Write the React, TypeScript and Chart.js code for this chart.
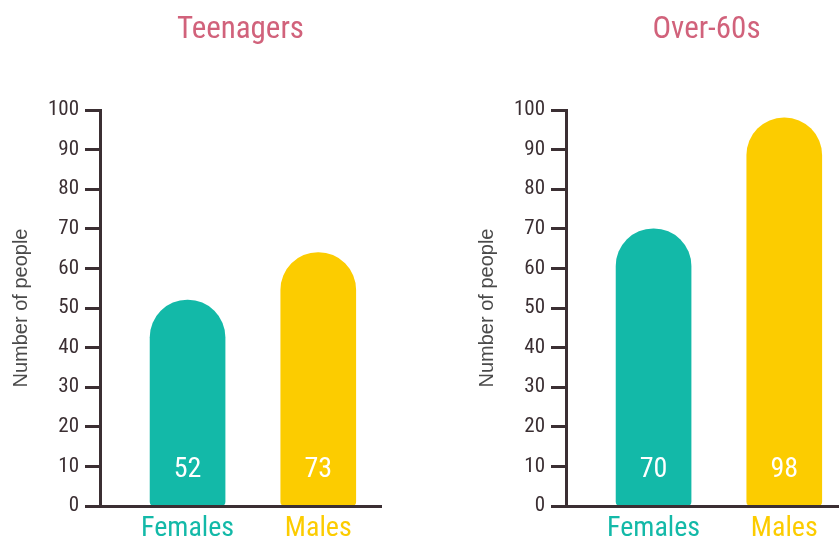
import React, { useEffect, useRef } from 'react';
import { Chart, registerables } from 'chart.js';

Chart.register(...registerables);

// ---- data ----
const categories = ['Females', 'Males'];
const teenBarValues = [52, 64];
const teenValueLabels = ['52', '73'];
const over60BarValues = [70, 98];
const over60ValueLabels = ['70', '98'];
const panelTitles = ['Teenagers', 'Over-60s'];
const yAxisTitle = 'Number of people';
const yMin = 0;
const yMax = 100;
const yStep = 10;

// ---- styles ----
const barColors = ['#13b9a8', '#fccc00'];
const titleColor = '#d1627b';
const axisColor = '#3b2f33';
const yTitleColor = '#4a4a4a';
const narrowFont = "'Liberation Sans Narrow', 'Roboto Condensed', 'DejaVu Sans Condensed', 'Liberation Sans', sans-serif";
const plainFont = "'Liberation Sans', Arial, sans-serif";

const valueLabelPlugin = {
  id: 'valueLabels',
  afterDatasetsDraw(chart: any, _args: any, opts: any) {
    const { ctx } = chart;
    const meta = chart.getDatasetMeta(0);
    const y = chart.scales.y.getPixelForValue(opts.at) + opts.size * 0.38;
    ctx.save();
    ctx.font = `${opts.size}px ${narrowFont}`;
    ctx.fillStyle = '#ffffff';
    ctx.textAlign = 'center';
    ctx.textBaseline = 'alphabetic';
    meta.data.forEach((el: any, i: number) => {
      ctx.fillText(opts.labels[i], el.x, y);
    });
    ctx.restore();
  },
};

const panelTitlePlugin = {
  id: 'panelTitle',
  afterDraw(chart: any, _args: any, opts: any) {
    const { ctx, chartArea } = chart;
    ctx.save();
    ctx.font = `${opts.size}px ${narrowFont}`;
    ctx.fillStyle = opts.color;
    ctx.textAlign = 'center';
    ctx.textBaseline = 'alphabetic';
    ctx.fillText(opts.text, (chartArea.left + chartArea.right) / 2, opts.baseline);
    ctx.restore();
  },
};

function Panel(props: { title: string; values: number[]; labels: string[]; left: number }) {
  const ref = useRef<HTMLCanvasElement | null>(null);
  useEffect(() => {
    if (!ref.current) return;
    const chart = new Chart(ref.current, {
      type: 'bar',
      data: {
        datasets: [
          {
            data: props.values.map((v, i) => ({ x: i, y: v })),
            backgroundColor: barColors,
            barThickness: 75,
            borderRadius: { topLeft: 38, topRight: 38, bottomLeft: 4, bottomRight: 4 },
            borderSkipped: false,
          },
        ],
      },
      options: {
        animation: false,
        responsive: false,
        layout: { padding: { left: 0, right: 100, top: 110, bottom: 0 } },
        plugins: {
          legend: { display: false },
          tooltip: { enabled: false },
          title: { display: false },
          panelTitle: { text: props.title, color: titleColor, size: 31, baseline: 38 },
          valueLabels: { labels: props.labels, at: 10, size: 28 },
        } as any,
        scales: {
          x: {
            type: 'linear',
            offset: false,
            min: -0.67,
            max: 1.48,
            afterBuildTicks: (s: any) => {
              s.ticks = categories.map((_, i) => ({ value: i }));
            },
            ticks: {
              autoSkip: false,
              maxRotation: 0,
              padding: 6,
              callback: (v: any) => categories[v as number],
              color: (c: any) => barColors[c.index],
              font: { family: narrowFont, size: 28 },
            },
            grid: { display: false, drawTicks: false, offset: false },
            border: { display: true, color: axisColor, width: 3, z: 1 },
            afterFit: (s: any) => {
              s.height = 37;
            },
          },
          y: {
            min: yMin,
            max: yMax,
            ticks: {
              stepSize: yStep,
              color: axisColor,
              padding: 6,
              font: { family: narrowFont, size: 21 },
            },
            grid: {
              drawOnChartArea: false,
              drawTicks: true,
              tickLength: 15,
              tickWidth: 3,
              tickColor: axisColor,
            },
            border: { display: true, color: axisColor, width: 3, z: 1 },
            title: {
              display: true,
              text: yAxisTitle,
              color: yTitleColor,
              font: { family: plainFont, size: 20 },
              padding: { top: 9, bottom: 0 },
            },
            afterFit: (s: any) => {
              s.width = 100;
            },
          },
        } as any,
      },
      plugins: [valueLabelPlugin, panelTitlePlugin],
    } as any);
    return () => chart.destroy();
  }, []);
  return (
    <canvas
      ref={ref}
      width={481}
      height={543}
      style={{ position: 'absolute', left: props.left, top: 0, width: 481, height: 543 }}
    />
  );
}

export default function App() {
  return (
    <div
      style={{
        position: 'absolute',
        left: 0,
        top: 0,
        width: 839,
        height: 543,
        overflow: 'hidden',
        background: '#ffffff',
      }}
    >
      <Panel title={panelTitles[0]} values={teenBarValues} labels={teenValueLabels} left={0} />
      <Panel title={panelTitles[1]} values={over60BarValues} labels={over60ValueLabels} left={466} />
    </div>
  );
}
